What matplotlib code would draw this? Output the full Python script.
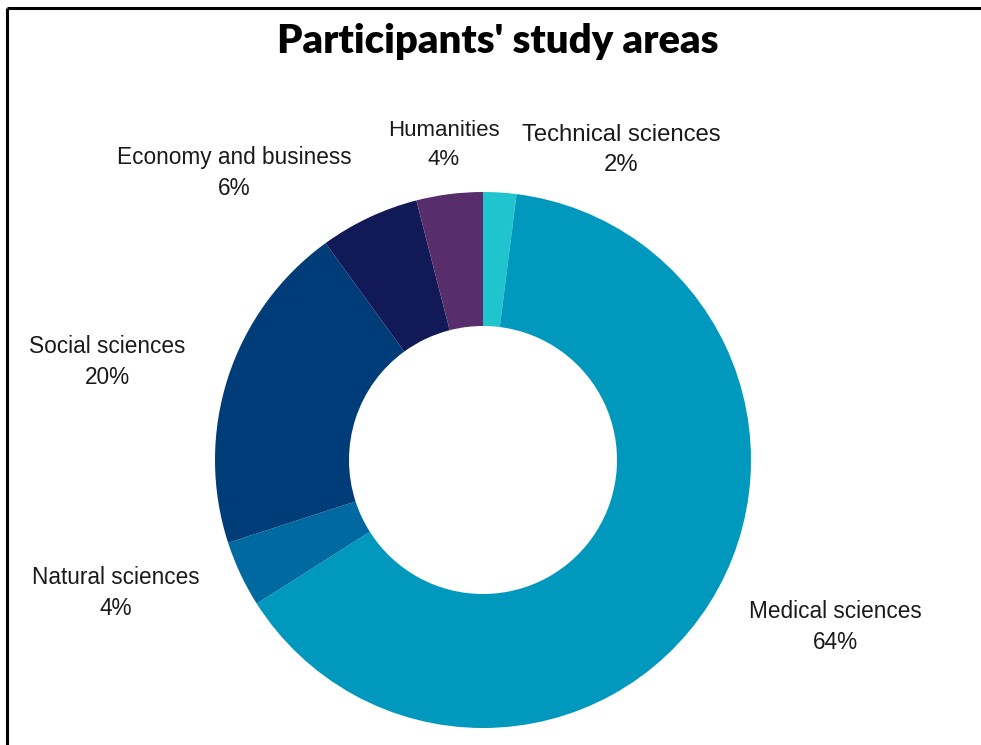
import matplotlib
matplotlib.use("Agg")
import matplotlib.pyplot as plt

# study areas, clockwise from 12 o'clock
areas = ["Technical sciences", "Medical sciences", "Natural sciences",
         "Social sciences", "Economy and business", "Humanities"]
shares = [2, 64, 4, 20, 6, 4]
colors = ["#20c4cf", "#0099bd", "#0069a0", "#003d78", "#111a57", "#582d6c"]

# label anchor points in pixel units (x right, y down)
label_pos = [(621, 150), (835, 627), (116, 593), (107, 362), (234, 173), (444, 145)]
label_size = [17.2, 16.3, 16.3, 16.3, 16.3, 16.0]

W, H = 981, 745
fig = plt.figure(figsize=(W / 100, H / 100), dpi=100)
ax = fig.add_axes([0, 0, 1, 1])

cx, cy, r = 483, H - 460, 268
ax.pie(shares, colors=colors, startangle=90, counterclock=False,
       center=(cx, cy), radius=r, frame=True,
       wedgeprops=dict(width=r * 0.5, linewidth=0))
ax.set_xlim(0, W)
ax.set_ylim(0, H)
ax.set_aspect("equal")
ax.axis("off")

for name, val, (x, y), fs in zip(areas, shares, label_pos, label_size):
    ax.text(x, H - y, "%s\n%d%%" % (name, val), ha="center", va="center",
            fontsize=fs, family="Liberation Sans", color="#1a1a1a",
            linespacing=1.45)

ax.text(498, H - 41, "Participants' study areas", ha="center", va="center",
        fontsize=28.8, fontweight="heavy", family="Lato", color="black")

# frame lines along the top and left edge
ax.plot([7, W], [H - 8, H - 8], color="black", lw=2.2, solid_capstyle="butt")
ax.plot([7, 7], [0, H - 8], color="black", lw=2.2, solid_capstyle="butt")

fig.savefig("out.png", dpi=100)
